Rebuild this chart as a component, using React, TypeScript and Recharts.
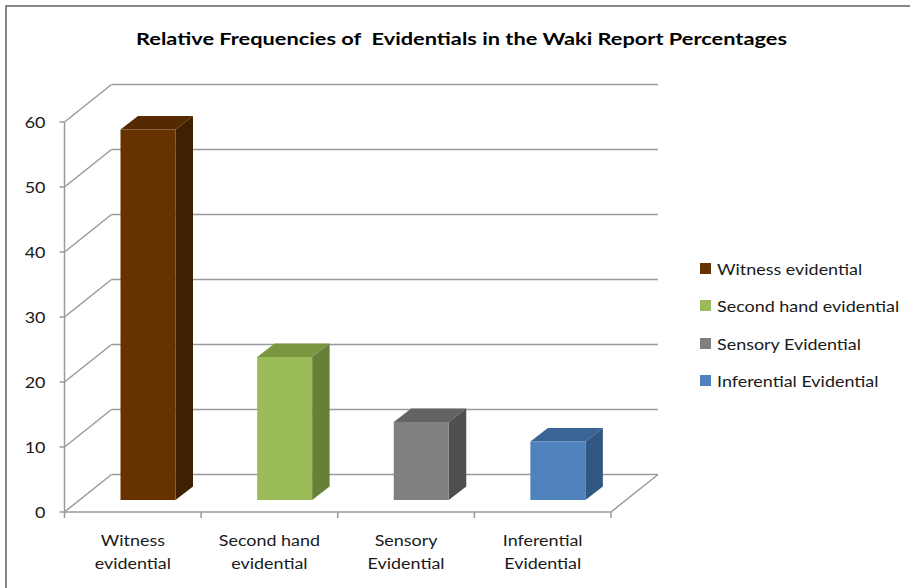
import React from 'react';
import { BarChart, Bar, XAxis, YAxis, CartesianGrid, Legend } from 'recharts';

// ---- data ----
const categories = [
  'Witness evidential',
  'Second hand evidential',
  'Sensory Evidential',
  'Inferential Evidential',
];
const axisLabelLines = [
  ['Witness', 'evidential'],
  ['Second hand', 'evidential'],
  ['Sensory', 'Evidential'],
  ['Inferential', 'Evidential'],
];
const percentages = [57, 22, 12, 9];
const yTicks = [0, 10, 20, 30, 40, 50, 60];
const title = 'Relative Frequencies of  Evidentials in the Waki Report Percentages';

// ---- styles ----
const PALETTE = [
  { front: '#663300', top: '#552a00', side: '#402000' },
  { front: '#9bbb59', top: '#7a963f', side: '#677f36' },
  { front: '#808080', top: '#636363', side: '#4f4f4f' },
  { front: '#4f81bd', top: '#3b6496', side: '#335784' },
];
const FONT = 'Lato, Carlito, Calibri, "Open Sans", sans-serif';
const TEXT = '#1a1a1a';
const LINE = '#9a9a9a';
// glyphs are set a little wide
const STRETCH = 1.12;

const W = 910;
const H = 588;
const PLOT_LEFT = 64.5;
const PLOT_RIGHT = 611;
const PLOT_TOP = 122;
const PLOT_BOTTOM = 512;
const PLOT_W = PLOT_RIGHT - PLOT_LEFT;

// oblique projection of the back wall
const WALL_DX = 47;
const WALL_DY = -37.5;
// bars sit partway into the floor depth
const FRONT_DX = 15;
const FRONT_DY = -12;
const BAR_DX = 17.5;
const BAR_DY = -13.5;

const chartData = categories.map((name, i) => ({ name, value: percentages[i] }));

// Each horizontal gridline becomes a side-wall diagonal plus a back-wall line.
const renderGridLine = (p: any) => {
  const { x1, y1, x2 } = p;
  const bx1 = x1 + WALL_DX;
  const bx2 = x2 + WALL_DX;
  const by = y1 + WALL_DY;
  const isFloor = Math.abs(y1 - PLOT_BOTTOM) < 0.6;
  return (
    <g key={p.key ?? `grid-${p.index}`}>
      <line x1={x1} y1={y1} x2={bx1} y2={by} stroke={LINE} strokeWidth={1.5} />
      <line x1={bx1} y1={by} x2={bx2} y2={by} stroke={LINE} strokeWidth={1.5} />
      {isFloor && <line x1={x2} y1={y1} x2={bx2} y2={by} stroke={LINE} strokeWidth={1.5} />}
    </g>
  );
};

function Bar3D(props: any) {
  const { x, y, width, height, index } = props;
  const c = PALETTE[index % PALETTE.length];
  const fx = x + FRONT_DX;
  const fy = y + FRONT_DY;
  const r = fx + width;
  const b = fy + height;
  return (
    <g>
      <polygon
        points={`${fx},${fy} ${fx + BAR_DX},${fy + BAR_DY} ${r + BAR_DX},${fy + BAR_DY} ${r},${fy}`}
        fill={c.top}
      />
      <polygon
        points={`${r},${fy} ${r + BAR_DX},${fy + BAR_DY} ${r + BAR_DX},${b + BAR_DY} ${r},${b}`}
        fill={c.side}
      />
      <rect x={fx} y={fy} width={width} height={height} fill={c.front} />
    </g>
  );
}

function ValueTick(props: any) {
  const { x, y, payload } = props;
  return (
    <g transform={`translate(${x},${y}) scale(${STRETCH},1)`}>
      <text x={0} y={0} dy="0.36em" textAnchor="end" fill={TEXT} fontSize={16} fontFamily={FONT}>
        {payload.value}
      </text>
    </g>
  );
}

function CategoryTick(props: any) {
  const { x, y, index } = props;
  const band = PLOT_W / categories.length;
  const lines = axisLabelLines[index] || [];
  const left = x - band / 2;
  const right = x + band / 2;
  return (
    <g>
      <line x1={left} y1={y} x2={left} y2={y + 6} stroke={LINE} strokeWidth={1.5} />
      {index === categories.length - 1 && (
        <line x1={right} y1={y} x2={right} y2={y + 6} stroke={LINE} strokeWidth={1.5} />
      )}
      <g transform={`translate(${x},${y}) scale(${STRETCH},1)`}>
        <text x={0} y={0} textAnchor="middle" fill={TEXT} fontSize={16} fontFamily={FONT}>
          <tspan x={0} dy={34.5}>{lines[0]}</tspan>
          <tspan x={0} dy={22.5}>{lines[1]}</tspan>
        </text>
      </g>
    </g>
  );
}

function LegendContent() {
  return (
    <div style={{ fontFamily: FONT, fontSize: 16, color: TEXT }}>
      {categories.map((name, i) => (
        <div key={name} style={{ display: 'flex', alignItems: 'center', height: 37.5 }}>
          <span
            style={{
              display: 'inline-block',
              flex: 'none',
              width: 11,
              height: 11,
              background: PALETTE[i].front,
              marginRight: 6,
            }}
          />
          <span
            style={{
              display: 'inline-block',
              flex: 'none',
              whiteSpace: 'nowrap',
              transform: `scaleX(${STRETCH})`,
              transformOrigin: 'left center',
            }}
          >
            {name}
          </span>
        </div>
      ))}
    </div>
  );
}

export default function App() {
  return (
    <div
      style={{
        position: 'absolute',
        left: 0,
        top: 0,
        width: W,
        height: H,
        overflow: 'hidden',
        background: '#fff',
      }}
    >
      <div
        style={{
          position: 'absolute',
          left: 5,
          top: 5,
          width: 2000,
          height: 2000,
          borderLeft: '2px solid #878787',
          borderTop: '2px solid #878787',
        }}
      />
      <svg width={W} height={60} style={{ position: 'absolute', left: 0, top: 0 }}>
        <text
          x={461.5}
          y={45}
          textAnchor="middle"
          fontFamily={FONT}
          fontWeight="bold"
          fontSize={17}
          textLength={651}
          lengthAdjust="spacingAndGlyphs"
          fill="#000"
          style={{ whiteSpace: 'pre' }}
        >
          {title}
        </text>
      </svg>
      <div style={{ position: 'absolute', left: 0, top: 0 }}>
        <BarChart
          width={W}
          height={H}
          data={chartData}
          margin={{ top: PLOT_TOP, right: W - PLOT_RIGHT, bottom: 16, left: PLOT_LEFT - 60 }}
          barSize={55}
        >
          <CartesianGrid horizontal={renderGridLine} vertical={false} />
          <XAxis
            dataKey="name"
            height={60}
            axisLine={{ stroke: LINE, strokeWidth: 1.5 }}
            tickLine={false}
            tickSize={0}
            tickMargin={0}
            interval={0}
            tick={<CategoryTick />}
          />
          <YAxis
            width={60}
            domain={[0, 60]}
            ticks={yTicks}
            interval={0}
            axisLine={{ stroke: LINE, strokeWidth: 1.5 }}
            tickLine={{ stroke: LINE, strokeWidth: 1.5 }}
            tickSize={5}
            tickMargin={14}
            tick={<ValueTick />}
          />
          <Legend
            layout="vertical"
            align="center"
            verticalAlign="middle"
            content={<LegendContent />}
            wrapperStyle={{ left: 700, top: 249.5, width: 210 }}
          />
          <Bar dataKey="value" isAnimationActive={false} shape={<Bar3D />} />
        </BarChart>
      </div>
    </div>
  );
}
